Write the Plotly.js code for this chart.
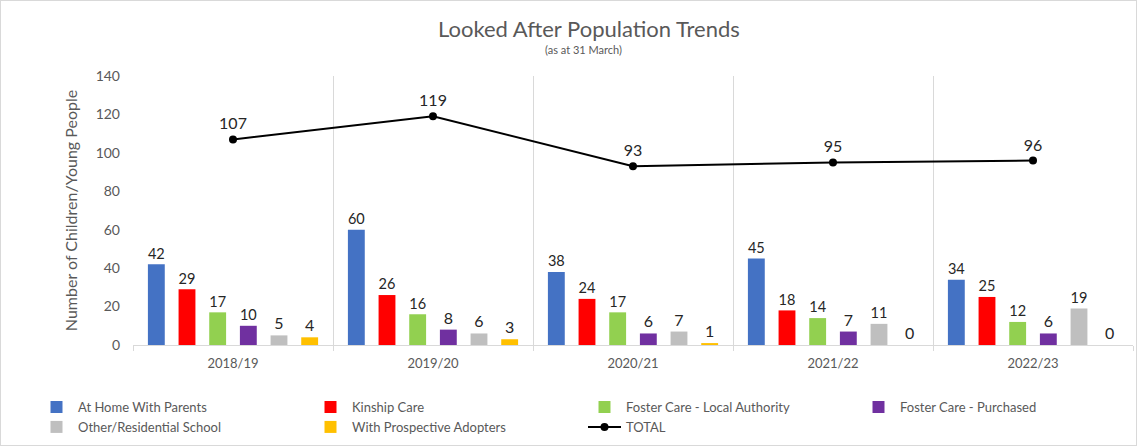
<!DOCTYPE html>
<html>
<head>
<meta charset="utf-8">
<script src="https://cdn.plot.ly/plotly-3.0.1.min.js"></script>
<style>
html,body{margin:0;padding:0;background:#fff;}
#wrap{position:absolute;left:0;top:0;width:1135px;height:444px;border:1px solid #d9d9d9;}
#chart{width:1135px;height:444px;}
</style>
</head>
<body>
<div id="wrap"><div id="chart"></div></div>
<script>
const years = ["2018/19","2019/20","2020/21","2021/22","2022/23"];
const atHomeWithParents = [42,60,38,45,34];
const kinshipCare = [29,26,24,18,25];
const fosterCareLA = [17,16,17,14,12];
const fosterCarePurchased = [10,8,6,7,6];
const otherResidential = [5,6,7,11,19];
const prospectiveAdopters = [4,3,1,0,0];
const total = [107,119,93,95,96];

const seriesNames = ["At Home With Parents","Kinship Care","Foster Care - Local Authority","Foster Care - Purchased","Other/Residential School","With Prospective Adopters"];
const seriesValues = [atHomeWithParents,kinshipCare,fosterCareLA,fosterCarePurchased,otherResidential,prospectiveAdopters];
const seriesColors = ["#4472C4","#FF0000","#92D050","#7030A0","#BFBFBF","#FFC000"];

const FONT = "Lato, Carlito, Calibri, 'Open Sans', sans-serif";
const traces = seriesNames.map((n,i)=>({
  type:"bar", name:n, x:years, y:seriesValues[i],
  marker:{color:seriesColors[i]},
  text:seriesValues[i].map(String), textposition:"outside",
  textfont:{family:FONT,size:16,color:"#262626"},
  cliponaxis:false
}));
traces.push({
  type:"scatter", mode:"lines+markers+text", name:"TOTAL", x:years, y:total,
  line:{color:"#000000",width:2}, marker:{color:"#000000",size:8},
  text:total.map(String), textposition:"top center",
  textfont:{family:FONT,size:16,color:"#262626"}, cliponaxis:false
});

const layout = {
  width:1135, height:444,
  margin:{l:132,r:3,t:75,b:100},
  paper_bgcolor:"#fff", plot_bgcolor:"#fff",
  font:{family:FONT,color:"#595959"},
  title:{text:"Looked After Population Trends",
    font:{family:FONT,size:22,color:"#595959"}, x:0.518, xanchor:"center", y:0.937, yanchor:"middle"},
  annotations:[{text:"(as at 31 March)", xref:"paper", yref:"paper", x:0.45, y:1.10,
    xanchor:"center", yanchor:"middle", showarrow:false, font:{family:FONT,size:11,color:"#595959"}}],
  barmode:"group", bargap:0.08, bargroupgap:0.45,
  xaxis:{type:"category", tickson:"boundaries", showgrid:true, gridcolor:"#d9d9d9", gridwidth:1,
    ticks:"outside", ticklen:5, tickcolor:"#d9d9d9", showline:true, linecolor:"#d9d9d9",
    tickfont:{family:FONT,size:13,color:"#595959"}, zeroline:false, ticklabelstandoff:6},
  yaxis:{range:[0,140], dtick:20, showgrid:false, zeroline:false, showline:false,
    tickfont:{family:FONT,size:14,color:"#595959"}, ticklabelstandoff:12,
    title:{text:"Number of Children/Young People", font:{family:FONT,size:16,color:"#595959"}, standoff:14}},
  legend:{orientation:"h", x:-0.098, xanchor:"left", y:-0.175, yanchor:"top",
    entrywidth:226, entrywidthmode:"pixels", tracegroupgap:0,
    font:{family:FONT,size:13,color:"#595959"}, itemwidth:33},
  showlegend:true
};
Plotly.newPlot("chart", traces, layout, {displayModeBar:false, staticPlot:true});
</script>
</body>
</html>
